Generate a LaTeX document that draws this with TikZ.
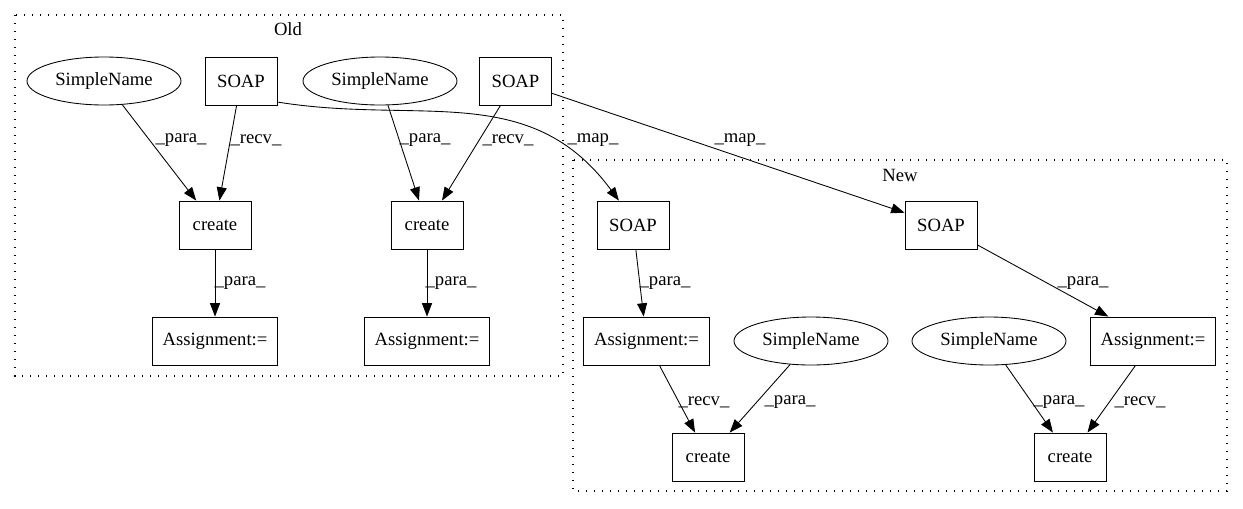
\documentclass[tikz,border=0pt]{standalone}
\usepackage{fontspec}
\setmainfont{Liberation Serif}
\usetikzlibrary{shapes.geometric,arrows.meta}

\begin{document}
\begin{tikzpicture}[x=0.75pt,y=-0.75pt,
  every node/.style={font=\fontsize{14pt}{16pt}\selectfont},
  box/.style={draw,line width=0.65pt,rectangle,minimum height=36pt,minimum width=54pt,inner sep=0pt},
  wide/.style={box,minimum width=94pt},
  oval/.style={draw,line width=0.65pt,ellipse,minimum width=115.5pt,minimum height=36pt,inner sep=0pt},
  edge/.style={line width=0.65pt,-{Triangle[length=10pt,width=7.5pt]}},
  lbl/.style={inner sep=0pt},
  cluster/.style={line width=0.8pt,dash pattern=on 0.8pt off 5.2pt}]
\useasboundingbox (0,0) rectangle (1243,508);
\draw[cluster] (15,15) rectangle (563,376);
\draw[cluster] (573,160) rectangle (1227,491);
\node (old) at (288,29) {Old};
\node (new) at (900,175) {New};
\node[oval] (sna) at (104,81) {SimpleName};
\node[box] (soapa) at (241,81) {SOAP};
\node[oval] (snb) at (380,81) {SimpleName};
\node[box] (soapb) at (515.5,81) {SOAP};
\node[box] (createa) at (215,225) {create};
\node[box] (createb) at (427,225) {create};
\node[wide] (asgna) at (215,341) {Assignment:=};
\node[wide] (asgnb) at (427,341) {Assignment:=};
\node[box] (soapc) at (633,225) {SOAP};
\node[box] (soapd) at (941,225) {SOAP};
\node[wide] (asgnc) at (646.5,341) {Assignment:=};
\node[oval] (snc) at (811,341) {SimpleName};
\node[oval] (snd) at (989,341) {SimpleName};
\node[wide] (asgnd) at (1153,341) {Assignment:=};
\node[box] (createc) at (708,457) {create};
\node[box] (created) at (1070,457) {create};
\draw[edge] (sna) -- (createa);
\draw[edge] (soapa) -- (createa);
\draw[edge] (snb) -- (createb);
\draw[edge] (soapb) -- (createb);
\draw[edge] (createa) -- (asgna);
\draw[edge] (createb) -- (asgnb);
\draw[edge] (soapa.-30) .. controls (420,125) and (530,80) .. (soapc.120);
\draw[edge] (soapb) -- (soapd);
\draw[edge] (soapc) -- (asgnc);
\draw[edge] (soapd) -- (asgnd);
\draw[edge] (asgnc) -- (createc);
\draw[edge] (snc) -- (createc);
\draw[edge] (snd) -- (created);
\draw[edge] (asgnd) -- (created);
\node[lbl] (paraa) at (181,140) {\_para\_};
\node[lbl] (recva) at (256,140) {\_recv\_};
\node[lbl] (parab) at (425,140) {\_para\_};
\node[lbl] (recvb) at (508,140) {\_recv\_};
\node[lbl] (parac) at (240,283) {\_para\_};
\node[lbl] (parad) at (451,283) {\_para\_};
\node[lbl] (mapa) at (593,140) {\_map\_};
\node[lbl] (mapb) at (740,140) {\_map\_};
\node[lbl] (parae) at (665,283) {\_para\_};
\node[lbl] (paraf) at (1083,283) {\_para\_};
\node[lbl] (recvc) at (704,402) {\_recv\_};
\node[lbl] (parag) at (790,402) {\_para\_};
\node[lbl] (parah) at (1059,402) {\_para\_};
\node[lbl] (recvd) at (1140,402) {\_recv\_};
\end{tikzpicture}
\end{document}
